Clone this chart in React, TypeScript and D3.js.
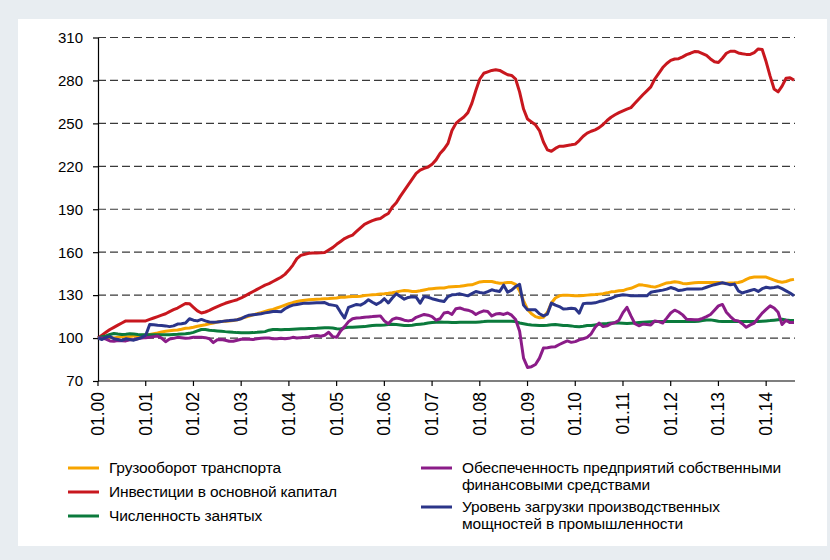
import * as d3 from 'd3';
import React, { useEffect, useRef } from 'react';

// monthly indices, 01.2000 = 100, through 08.2014
const yearLabels = ['01.00', '01.01', '01.02', '01.03', '01.04', '01.05', '01.06', '01.07',
  '01.08', '01.09', '01.10', '01.11', '01.12', '01.13', '01.14'];
const yTicks = [70, 100, 130, 160, 190, 220, 250, 280, 310];

const cargo = [
  100, 99.5, 100, 100.5, 100, 100.5, 101, 101, 101, 101.5, 101.5, 102,
  102, 102.5, 103, 103.5, 104.3, 104.8, 105.1, 105.4, 105.7, 106.2, 106.8, 107.1,
  107.6, 108.2, 108.8, 109.3, 110, 110.5, 111.2, 111.5, 111.8, 112, 112.2, 112.8,
  113.8, 114.5, 115.3, 116.2, 117, 117.8, 118.6, 119.4, 120, 121, 122, 123,
  124, 124.8, 125.5, 126, 126.4, 126.7, 127, 127.2, 127.3, 127.5, 127.6, 127.8,
  128, 128.5, 128.6, 128.8, 129, 129, 129.2, 129.7, 130, 130.3, 130.5, 130.8,
  131, 131.3, 131.7, 132.2, 132.8, 133.2, 133, 132.6, 132.5, 133, 133.6, 134.2,
  134.5, 134.8, 135, 135, 135.6, 135.8, 136, 136.2, 136.6, 137, 137.2, 138.2,
  139.2, 139.5, 139.5, 139.5, 138.8, 138.3, 138.5, 138.8, 138.8, 137.5, 133, 126,
  120, 117, 115, 114.2, 114.5, 118, 124.5, 128, 129.5, 130, 130, 129.8,
  129.5, 129.5, 129.8, 130, 130.2, 130.4, 130.7, 131, 131.6, 132.3, 132.6, 133,
  133.2, 134.2, 134.8, 136, 137.2, 137, 136.5, 136, 135.6, 136.5, 137.5, 138.5,
  138.8, 139.3, 139, 138.2, 138, 138.3, 138.6, 138.8, 138.8, 138.8, 138.8, 138.8,
  138.8, 138.5, 138.3, 138.5, 138.6, 138.8, 139.5, 141, 142.2, 142.6, 142.6, 142.6,
  142.6, 141.5, 140.5, 139.5, 139, 139.5, 140.5, 141,
];

const investment = [
  100, 102, 104, 106, 107.5, 109, 110.5, 112, 112, 112, 112, 112,
  112, 113, 114, 115, 116, 117, 118.5, 119.8, 121, 122.6, 124.2, 124,
  121.5, 119, 117.5, 118.2, 119.3, 120.7, 122, 123.2, 124.3, 125.2, 126, 126.8,
  128, 129.5, 131, 132.5, 134, 135.5, 137, 138, 139.5, 141, 142.5, 144.5,
  147.5, 151, 155.5, 157.8, 158.6, 159.2, 159.4, 159.5, 159.6, 159.8, 161.5, 163.2,
  165.5, 167.5, 169.5, 170.8, 172, 174.5, 177, 179.5, 180.8, 182, 183, 183.6,
  185.5, 187, 191.5, 194.5, 199, 203, 207, 211, 215, 217.3, 218.5, 219.5,
  221.5, 224.5, 229, 232, 236, 245, 250, 252.4, 254.5, 257.5, 264, 273,
  281, 285, 286, 287, 287.5, 287, 285.5, 284, 283.5, 281, 272, 260,
  253, 251, 249, 245, 237, 231.5, 230.5, 232.5, 234, 234, 234.6, 235,
  235.5, 238, 241, 243.2, 244.5, 245.5, 247, 249.2, 252, 254.3, 256, 257.5,
  258.8, 260, 261, 264, 267, 270, 272.7, 275.5, 281, 285, 289, 291.8,
  294, 295, 295.2, 296.5, 298, 299, 300.2, 300, 298.8, 297.5, 295, 293,
  292.5, 295.5, 299, 300.4, 300.4, 299.2, 298.6, 298.2, 298.2, 299.5, 302, 301.6,
  293, 283, 274, 272, 276, 281.5, 281.8, 280.2,
];

const employment = [
  100, 101, 101.5, 102.5, 103.2, 102.8, 102.5, 102.7, 103, 102.8, 102.5, 102.4,
  102.4, 102.4, 102.4, 102.4, 102.4, 102.4, 102.4, 102.5, 102.6, 102.8, 103, 103.3,
  104, 105, 106, 106, 105.5, 105.2, 105, 104.8, 104.5, 104.3, 104, 103.8,
  103.7, 103.7, 103.7, 103.8, 104, 104.3, 104.5, 105.5, 106, 106, 105.8, 106,
  106, 106.2, 106.4, 106.5, 106.5, 106.6, 106.7, 106.8, 107, 107.2, 107.2, 107,
  106.5, 106.3, 107.2, 107.5, 107.6, 107.8, 107.9, 108, 108.4, 108.8, 109, 109,
  109.2, 109.5, 109.6, 109.5, 109.2, 108.8, 108.7, 109, 109.4, 109.7, 110, 110.5,
  110.8, 111.1, 111.2, 111.1, 111, 110.8, 110.8, 111, 111.1, 111.1, 111.1, 111.1,
  111.3, 111.5, 111.8, 111.8, 111.8, 111.8, 111.8, 111.8, 111.8, 111.5, 110.5, 110,
  109.5, 109.2, 109, 108.8, 108.8, 109, 109.3, 109.5, 109.2, 108.8, 108.8, 108.5,
  108, 107.9, 108.3, 108.8, 108.8, 109.2, 109.6, 110, 110.2, 110.5, 110.7, 110.6,
  110.4, 110.2, 110.4, 110.6, 110.8, 111, 111.2, 111.4, 111.5, 111.5, 111.5, 111.5,
  111.5, 111.5, 111.5, 111.5, 111.5, 111.5, 111.6, 111.8, 112.2, 112.6, 112.7, 112.3,
  111.8, 111.5, 111.5, 111.5, 111.5, 111.5, 111.5, 111.5, 111.5, 111.5, 111.5, 111.8,
  112, 112.2, 112.5, 112.8, 113.1, 112.6, 112.2, 112.2,
];

const ownFunds = [
  100, 100, 99.3, 98, 97.8, 98.3, 98.2, 98, 98.8, 99, 99.5, 100,
  100.3, 100.5, 101, 101.4, 100, 97.5, 99.3, 99.8, 100.5, 100.2, 99.8, 100,
  100.5, 100.5, 100.5, 100.3, 99.5, 96.8, 98.8, 99, 98.5, 97.8, 97.8, 98.5,
  99.2, 99.3, 99.2, 99, 99.5, 99.8, 100, 100, 99.5, 99.6, 99.8, 99.5,
  99.8, 100.5, 100, 100.3, 100.5, 100.8, 101.5, 101.8, 101.3, 102, 104, 101,
  100.5, 105, 108, 111.5, 113.5, 114, 114.2, 114.5, 114.8, 115, 115.3, 115.5,
  112, 110, 113, 114, 113.5, 112.5, 112, 112.5, 114.5, 115.5, 116.5, 116,
  115, 112.5, 113.5, 117.5, 118, 116.5, 120.5, 121, 120, 119.5, 118.5, 116.5,
  118, 119, 118.5, 115.5, 116.8, 117.2, 116.5, 117.5, 116, 113, 105, 86,
  79.5, 80, 81.5, 86, 93, 93.3, 93.7, 94, 95.5, 96.8, 98, 97,
  97.5, 98.8, 99.5, 100.5, 103, 107.5, 110.5, 108, 108.5, 110, 110.8, 112.5,
  117.8, 121.5, 115.5, 110, 108.6, 109.8, 109.5, 109.2, 112, 111.5, 110.5, 113.9,
  117.5, 119.5, 118.2, 116.2, 113.2, 113, 112.8, 112.8, 113.8, 115, 116.5, 119.5,
  122.5, 123.5, 118, 115, 112.5, 112, 110, 107.5, 109.2, 110.5, 114, 117.4,
  120, 122.5, 121, 118, 109.5, 112.5, 110.8, 110.8,
];

const capacity = [
  100, 99, 100.5, 101, 99.5, 99, 98.3, 99.5, 99, 98.5, 99.5, 100.5,
  102, 109.5, 109.3, 109, 108.8, 108.5, 108, 108.5, 109.8, 110, 110.5, 113.5,
  112.5, 112, 113, 112, 111.2, 111, 111.2, 111.5, 112, 112.2, 112.5, 112.8,
  113.5, 115, 116, 116.3, 116.6, 117, 117.6, 118, 118.5, 118.5, 118.3, 120.5,
  122, 123, 123.5, 124, 124.4, 124.4, 124.5, 124.6, 124.6, 124.8, 123.5, 123,
  122.5, 118, 114, 121.5, 122.5, 123.5, 123, 124.5, 126.8, 125, 123.5, 125,
  127.5, 124.5, 128, 131, 129, 127.2, 128.4, 128.8, 128.6, 124.4, 129, 128.5,
  127.5, 126.8, 126, 125.5, 129, 130.2, 130.5, 130.9, 130.2, 129.5, 131, 132.5,
  131.8, 131.4, 132.5, 133.7, 133, 132.5, 137, 132, 133.5, 136, 137.5, 123,
  119.7, 119.7, 119.7, 117, 115.5, 116.8, 124.4, 123, 122, 120.3, 120.5, 120.9,
  120.5, 117.4, 124, 124.4, 124.4, 124.6, 125.5, 126, 127, 127.8, 129, 129.8,
  130.2, 130, 129.5, 129.5, 129.5, 129.5, 129.5, 132, 132.6, 133, 133.5, 134.2,
  135.3, 134.5, 133.2, 133.6, 134.2, 134.2, 134.2, 134.2, 134.5, 135.5, 136.5, 137.3,
  138, 138.6, 138, 137.2, 137.7, 133, 131.5, 132.4, 133.2, 134, 132.6, 134.5,
  135.5, 135, 135.3, 135.8, 134.5, 133, 131.5, 129.5,
];

const seriesNames = [
  ['Грузооборот транспорта'],
  ['Инвестиции в основной капитал'],
  ['Численность занятых'],
  ['Обеспеченность предприятий собственными', 'финансовыми средствами'],
  ['Уровень загрузки производственных', 'мощностей в промышленности'],
];
const seriesData = [cargo, investment, employment, ownFunds, capacity];
const seriesColors = ['#f7a400', '#c8171e', '#0b7a3c', '#8b1c88', '#2b3589'];

const FONT = '"Liberation Sans", Arial, sans-serif';

export default function App() {
  const ref = useRef<SVGSVGElement>(null);

  useEffect(() => {
    const svg = d3.select(ref.current);
    svg.selectAll('*').remove();

    const width = 830;
    const height = 560;
    const x = d3.scaleLinear().domain([0, cargo.length - 1]).range([98, 794]);
    const y = d3.scaleLinear().domain([70, 310]).range([381, 37.5]);

    svg.append('rect').attr('width', width).attr('height', height).attr('fill', '#e8edf1');
    svg.append('rect').attr('x', 18).attr('y', 19).attr('width', 809).attr('height', 527).attr('fill', '#ffffff');

    // dashed grid
    svg.append('g')
      .selectAll('line')
      .data(yTicks.filter(d => d > 70))
      .join('line')
      .attr('x1', 98)
      .attr('x2', 795)
      .attr('y1', d => y(d))
      .attr('y2', d => y(d))
      .attr('stroke', '#3a3a3a')
      .attr('stroke-width', 1.2)
      .attr('stroke-dasharray', '8,4');

    // y axis
    const yAxis = svg.append('g')
      .attr('transform', 'translate(98,0)')
      .call(d3.axisLeft(y).tickValues(yTicks).tickSize(5).tickSizeOuter(0).tickPadding(10));
    yAxis.select('.domain').attr('stroke', '#000').attr('stroke-width', 1.2);
    yAxis.selectAll('.tick line').attr('stroke', '#000').attr('stroke-width', 1.2);
    yAxis.selectAll('text').attr('font-family', FONT).attr('font-size', 15).attr('fill', '#000');

    // x axis
    const months = d3.range(0, yearLabels.length).map(i => i * 12);
    const xg = svg.append('g');
    xg.append('line')
      .attr('x1', 98).attr('x2', 795).attr('y1', 381).attr('y2', 381)
      .attr('stroke', '#000').attr('stroke-width', 1.2);
    xg.selectAll('.tk')
      .data(months)
      .join('line')
      .attr('class', 'tk')
      .attr('x1', d => x(d)).attr('x2', d => x(d))
      .attr('y1', 381).attr('y2', 386)
      .attr('stroke', '#000').attr('stroke-width', 1.2);
    xg.selectAll('text')
      .data(yearLabels)
      .join('text')
      .attr('transform', (d, i) => `translate(${x(months[i]) + 6},392) rotate(-90)`)
      .attr('text-anchor', 'end')
      .attr('font-family', FONT)
      .attr('font-size', 17.5)
      .text(d => d);

    // lines
    const line = d3.line<number>().x((d, i) => x(i)).y(d => y(d));
    svg.append('g')
      .selectAll('path')
      .data(seriesData)
      .join('path')
      .attr('fill', 'none')
      .attr('stroke', (d, i) => seriesColors[i])
      .attr('stroke-width', 3)
      .attr('stroke-linejoin', 'round')
      .attr('d', d => line(d));

    // legend
    const legendPos = [
      { x: 68, y: 468 }, { x: 68, y: 492 }, { x: 68, y: 516 },
      { x: 421, y: 468 }, { x: 421, y: 507 },
    ];
    const lg = svg.append('g').selectAll('g')
      .data(seriesNames)
      .join('g')
      .attr('transform', (d, i) => `translate(${legendPos[i].x},${legendPos[i].y})`);
    lg.append('line')
      .attr('x1', 0).attr('x2', 31).attr('y1', 0).attr('y2', 0)
      .attr('stroke', (d, i) => seriesColors[i])
      .attr('stroke-width', 3);
    lg.each(function (names) {
      d3.select(this).selectAll('text')
        .data(names)
        .join('text')
        .attr('x', 41)
        .attr('y', (d, j) => 5 + j * 17)
        .attr('font-family', FONT)
        .attr('font-size', 15.5)
        .attr('letter-spacing', -0.15)
        .text(d => d);
    });
  }, []);

  return (
    <svg ref={ref} width={830} height={560} style={{ position: 'absolute', left: 0, top: 0 }} />
  );
}
